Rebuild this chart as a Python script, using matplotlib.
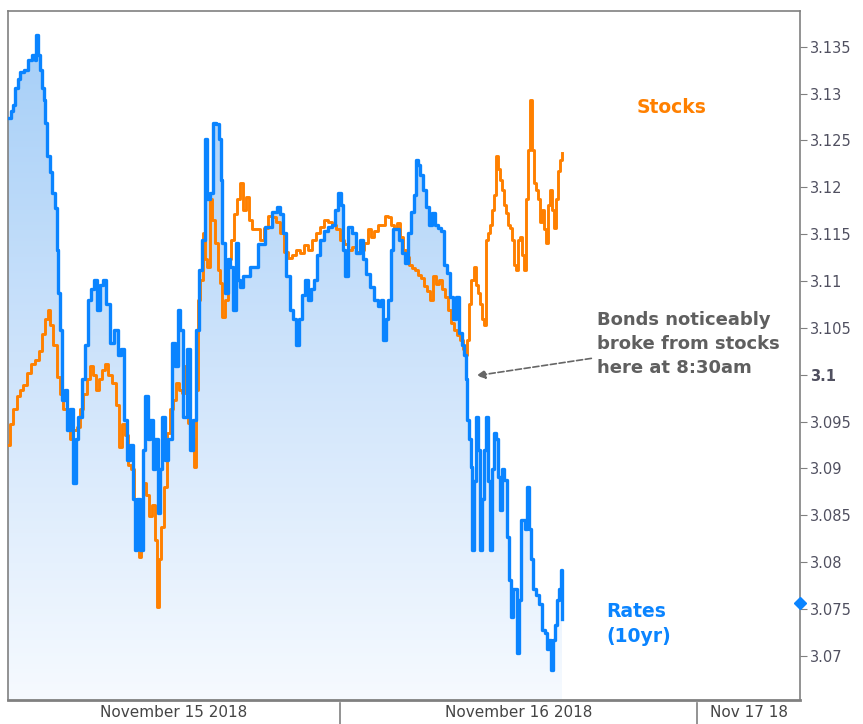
import numpy as np
import matplotlib.pyplot as plt
from matplotlib.ticker import FixedLocator, FuncFormatter
from matplotlib.colors import LinearSegmentedColormap

# hours since Nov 15 2018 00:00, 10yr yield
rate_hours = [1.68, 1.88, 2.02, 2.15, 2.35, 2.49, 2.76, 3.03, 3.29, 3.50, 3.56, 3.70, 3.83, 3.97,
              4.10, 4.17, 4.30, 4.50, 4.64, 4.84, 4.97, 5.04, 5.18, 5.31, 5.51, 5.65, 5.85, 6.05,
              6.25, 6.39, 6.66, 6.86, 7.06, 7.26, 7.46, 7.66, 7.87, 8.07, 8.27, 8.54, 8.81, 9.08,
              9.28, 9.48, 9.68, 9.88, 10.08, 10.22, 10.35, 10.55, 10.76, 10.89, 11.09, 11.23,
              11.43, 11.56, 11.76, 11.90, 12.03, 12.24, 12.44, 12.71, 12.91, 13.11, 13.24, 13.45,
              13.71, 13.92, 14.12, 14.32, 14.52, 14.72, 14.92, 15.06, 15.26, 15.46, 15.66, 15.86,
              16.00, 16.07, 16.27, 16.47, 16.60, 16.81, 17.01, 17.14, 17.28, 17.48, 17.95, 18.49,
              18.96, 19.43, 19.76, 19.97, 20.17, 20.37, 20.64, 20.84, 21.04, 21.24, 21.45, 21.65,
              21.85, 22.05, 22.25, 22.45, 22.66, 22.92, 23.19, 23.46, 23.66, 23.86, 24.07, 24.20,
              24.34, 24.54, 24.81, 25.08, 25.34, 25.55, 25.75, 26.02, 26.29, 26.55, 26.76, 26.89,
              27.09, 27.23, 27.43, 27.56, 27.76, 27.96, 28.17, 28.37, 28.57, 28.77, 28.97, 29.11,
              29.24, 29.38, 29.58, 29.78, 29.98, 30.18, 30.39, 30.59, 30.79, 30.99, 31.19, 31.40,
              31.60, 31.80, 32.00, 32.20, 32.34, 32.47, 32.54, 32.67, 32.81, 32.87, 33.01, 33.14,
              33.28, 33.41, 33.55, 33.68, 33.81, 33.95, 34.08, 34.22, 34.35, 34.49, 34.62, 34.76,
              34.89, 35.03, 35.23, 35.36, 35.50, 35.63, 35.77, 35.90, 36.04, 36.17, 36.31, 36.44,
              36.57, 36.71, 36.84, 36.98, 37.18, 37.38, 37.58, 37.78, 37.92, 38.05, 38.19, 38.32,
              38.45, 38.59, 38.72, 38.86, 38.93]
rates = [3.1274, 3.1281, 3.1288, 3.1306, 3.1315, 3.1323, 3.1325, 3.1336, 3.1341, 3.1336, 3.1362,
         3.1341, 3.1325, 3.1306, 3.1293, 3.1269, 3.1233, 3.1216, 3.1194, 3.1178, 3.1133, 3.1087,
         3.1048, 3.0973, 3.0984, 3.0941, 3.0963, 3.0885, 3.0931, 3.0955, 3.0995, 3.1032, 3.1080,
         3.1091, 3.1101, 3.1069, 3.1096, 3.1101, 3.1075, 3.1034, 3.1048, 3.1021, 3.1027, 3.0952,
         3.0909, 3.0925, 3.0867, 3.0813, 3.0867, 3.0813, 3.0920, 3.0977, 3.0931, 3.0952, 3.0899,
         3.0931, 3.0853, 3.0899, 3.0955, 3.0909, 3.0931, 3.1034, 3.1009, 3.1069, 3.1048, 3.0955,
         3.1027, 3.0920, 3.0952, 3.1048, 3.1112, 3.1144, 3.1251, 3.1187, 3.1194, 3.1269, 3.1267,
         3.1251, 3.1208, 3.1141, 3.1087, 3.1123, 3.1115, 3.1069, 3.1141, 3.1101, 3.1094, 3.1105,
         3.1115, 3.1139, 3.1158, 3.1174, 3.1179, 3.1171, 3.1151, 3.1105, 3.1069, 3.1059, 3.1032,
         3.1059, 3.1085, 3.1101, 3.1080, 3.1091, 3.1101, 3.1128, 3.1144, 3.1153, 3.1158, 3.1160,
         3.1176, 3.1194, 3.1181, 3.1133, 3.1105, 3.1158, 3.1151, 3.1130, 3.1144, 3.1123, 3.1107,
         3.1094, 3.1080, 3.1073, 3.1080, 3.1037, 3.1059, 3.1080, 3.1133, 3.1155, 3.1155, 3.1144,
         3.1130, 3.1119, 3.1151, 3.1174, 3.1192, 3.1229, 3.1224, 3.1213, 3.1197, 3.1179, 3.1160,
         3.1173, 3.1160, 3.1157, 3.1153, 3.1117, 3.1109, 3.1083, 3.1059, 3.1083, 3.1045, 3.1032,
         3.1021, 3.0995, 3.0952, 3.0931, 3.0902, 3.0813, 3.0887, 3.0955, 3.0920, 3.0813, 3.0867,
         3.0920, 3.0955, 3.0887, 3.0813, 3.0899, 3.0938, 3.0931, 3.0891, 3.0856, 3.0899, 3.0888,
         3.0827, 3.0781, 3.0742, 3.0771, 3.0771, 3.0703, 3.0760, 3.0845, 3.0845, 3.0835, 3.0880,
         3.0835, 3.0803, 3.0771, 3.0765, 3.0755, 3.0728, 3.0725, 3.0707, 3.0717, 3.0685, 3.0717,
         3.0733, 3.0760, 3.0771, 3.0792, 3.0739]

# stocks, rescaled onto the rate axis
stock_hours = [1.68, 1.82, 2.02, 2.29, 2.49, 2.69, 2.96, 3.23, 3.50, 3.76, 3.97, 4.17, 4.37, 4.50,
               4.71, 4.97, 5.18, 5.38, 5.65, 5.85, 6.05, 6.32, 6.52, 6.72, 6.99, 7.19, 7.39, 7.60,
               7.80, 8.00, 8.20, 8.40, 8.67, 8.94, 9.14, 9.34, 9.55, 9.75, 9.95, 10.15, 10.35,
               10.49, 10.62, 10.76, 10.96, 11.16, 11.36, 11.56, 11.70, 11.83, 11.97, 12.17, 12.37,
               12.57, 12.77, 12.98, 13.18, 13.38, 13.58, 13.78, 13.98, 14.18, 14.32, 14.45, 14.59,
               14.79, 14.92, 15.06, 15.26, 15.40, 15.60, 15.80, 15.93, 16.07, 16.27, 16.47, 16.67,
               16.87, 17.07, 17.28, 17.48, 17.68, 17.88, 18.08, 18.35, 18.62, 18.89, 19.16, 19.43,
               19.70, 19.97, 20.23, 20.50, 20.77, 21.04, 21.31, 21.58, 21.85, 22.12, 22.39, 22.66,
               22.92, 23.19, 23.46, 23.73, 24.00, 24.27, 24.54, 24.81, 25.08, 25.34, 25.61, 25.88,
               26.08, 26.29, 26.55, 26.82, 27.03, 27.23, 27.43, 27.63, 27.83, 28.03, 28.24, 28.44,
               28.64, 28.84, 29.04, 29.24, 29.44, 29.65, 29.85, 30.05, 30.25, 30.45, 30.66, 30.86,
               31.06, 31.26, 31.46, 31.66, 31.87, 32.07, 32.27, 32.40, 32.54, 32.67, 32.81, 33.01,
               33.14, 33.28, 33.41, 33.55, 33.68, 33.81, 33.95, 34.08, 34.22, 34.35, 34.49, 34.62,
               34.76, 34.89, 35.03, 35.16, 35.30, 35.43, 35.57, 35.70, 35.84, 35.97, 36.11, 36.24,
               36.37, 36.51, 36.64, 36.78, 36.91, 37.04, 37.18, 37.31, 37.45, 37.58, 37.72, 37.85,
               37.99, 38.12, 38.25, 38.39, 38.52, 38.66, 38.79, 38.93]
stocks_scaled = [3.0925, 3.0947, 3.0963, 3.0977, 3.0984, 3.0989, 3.1002, 3.1011, 3.1016, 3.1025,
                 3.1043, 3.1059, 3.1069, 3.1053, 3.1032, 3.0998, 3.0979, 3.0963, 3.0944, 3.0931,
                 3.0941, 3.0944, 3.0963, 3.0979, 3.0995, 3.1009, 3.1000, 3.0984, 3.0995, 3.1005,
                 3.1011, 3.1000, 3.0991, 3.0968, 3.0923, 3.0947, 3.0936, 3.0904, 3.0899, 3.0867,
                 3.0835, 3.0806, 3.0845, 3.0885, 3.0872, 3.0849, 3.0861, 3.0824, 3.0752, 3.0803,
                 3.0838, 3.0880, 3.0938, 3.0963, 3.0973, 3.0991, 3.0984, 3.0981, 3.1009, 3.0949,
                 3.0931, 3.0902, 3.0984, 3.1080, 3.1101, 3.1151, 3.1123, 3.1115, 3.1187, 3.1165,
                 3.1141, 3.1112, 3.1098, 3.1062, 3.1080, 3.1123, 3.1144, 3.1171, 3.1187, 3.1205,
                 3.1176, 3.1190, 3.1165, 3.1155, 3.1155, 3.1144, 3.1157, 3.1169, 3.1168, 3.1163,
                 3.1151, 3.1131, 3.1125, 3.1128, 3.1133, 3.1130, 3.1138, 3.1133, 3.1144, 3.1151,
                 3.1158, 3.1165, 3.1163, 3.1160, 3.1155, 3.1144, 3.1139, 3.1133, 3.1136, 3.1131,
                 3.1133, 3.1141, 3.1155, 3.1147, 3.1153, 3.1160, 3.1160, 3.1169, 3.1168, 3.1160,
                 3.1155, 3.1162, 3.1147, 3.1133, 3.1126, 3.1117, 3.1114, 3.1112, 3.1106, 3.1103,
                 3.1095, 3.1089, 3.1080, 3.1105, 3.1097, 3.1101, 3.1091, 3.1083, 3.1069, 3.1055,
                 3.1048, 3.1042, 3.1037, 3.1027, 3.1021, 3.1037, 3.1075, 3.1101, 3.1115, 3.1096,
                 3.1087, 3.1075, 3.1059, 3.1053, 3.1144, 3.1151, 3.1160, 3.1176, 3.1192, 3.1233,
                 3.1219, 3.1208, 3.1197, 3.1181, 3.1173, 3.1160, 3.1157, 3.1144, 3.1117, 3.1112,
                 3.1144, 3.1147, 3.1128, 3.1112, 3.1187, 3.1240, 3.1293, 3.1240, 3.1205, 3.1197,
                 3.1187, 3.1163, 3.1176, 3.1155, 3.1141, 3.1181, 3.1197, 3.1176, 3.1157, 3.1187,
                 3.1217, 3.1229, 3.1237]

last_quote = 3.0757
ytick_values = [3.135, 3.13, 3.125, 3.12, 3.115, 3.11, 3.105, 3.1, 3.095, 3.09, 3.085, 3.08, 3.075, 3.07]
day_bounds = [24, 48]
day_labels = ['November 15 2018', 'November 16 2018', 'Nov 17 18']

BLUE = '#0a84ff'
ORANGE = '#ff8000'
GRAY = '#808080'

fig = plt.figure(figsize=(8.63, 7.24), dpi=100)
ax = fig.add_axes([0.0093, 0.0331, 0.9177, 0.9517])
xmin, xmax = 1.68, 54.9
ymin, ymax = 3.0653, 3.1388
ax.set_xlim(xmin, xmax)
ax.set_ylim(ymin, ymax)

# gradient fill under the rates line
poly = ax.fill_between(rate_hours, rates, ymin, step='post', color='none', lw=0)
cmap = LinearSegmentedColormap.from_list('fade', ['#f6faff', '#cfe4fb', '#a6cff8'])
grad = np.linspace(0, 1, 256).reshape(-1, 1)
im = ax.imshow(grad, cmap=cmap, aspect='auto', origin='lower',
               extent=[xmin, xmax, ymin, max(rates)], zorder=1)
path = poly.get_paths()[0]
im.set_clip_path(path, transform=ax.transData)

ax.plot(stock_hours, stocks_scaled, color=ORANGE, lw=2.1, zorder=3, drawstyle='steps-post')
ax.plot(rate_hours, rates, color=BLUE, lw=2.4, zorder=4, drawstyle='steps-post')
ax.plot([xmax], [last_quote], marker='D', color=BLUE, ms=6, clip_on=False, zorder=5)

# axes frame and right ticks
for s in ax.spines.values():
    s.set_color(GRAY)
    s.set_linewidth(1.2)
ax.spines['bottom'].set_linewidth(2)
ax.yaxis.tick_right()
ax.yaxis.set_major_locator(FixedLocator(ytick_values))
ax.yaxis.set_major_formatter(FuncFormatter(lambda v, p: '%g' % round(v, 3)))
ax.tick_params(axis='y', direction='out', length=5, color=GRAY, labelcolor='#505060',
               labelsize=10.5, pad=2)
for lab in ax.get_yticklabels():
    if lab.get_text() == '3.1':
        lab.set_fontweight('bold')
ax.set_xticks([])

# day labels under the axis
trans = ax.get_xaxis_transform()
edges = [xmin] + day_bounds + [xmax]
for i, txt in enumerate(day_labels):
    ax.text((edges[i] + edges[i + 1]) / 2, -0.018, txt, transform=trans, ha='center', va='center',
            fontsize=11, color='#444444', clip_on=False)
for b in day_bounds:
    ax.plot([b, b], [-0.004, -0.035], transform=trans, color=GRAY, lw=1.2, clip_on=False)

# annotations
ax.text(43.9, 3.1285, 'Stocks', color=ORANGE, fontsize=13.5, fontweight='bold', ha='left', va='center')
ax.text(41.9, 3.0734, 'Rates\n(10yr)', color=BLUE, fontsize=13.5, fontweight='bold', ha='left',
        va='center', linespacing=1.45)
ax.annotate('Bonds noticeably\nbroke from stocks\nhere at 8:30am', xy=(33.15, 3.0999),
            xytext=(41.25, 3.1033), color='#5f5f5f', fontsize=13, fontweight='bold',
            ha='left', va='center', linespacing=1.45,
            arrowprops=dict(arrowstyle='-|>', linestyle='--', color='#666666', lw=1.2,
                            shrinkA=2, shrinkB=0))

fig.savefig('out.png', dpi=100)
